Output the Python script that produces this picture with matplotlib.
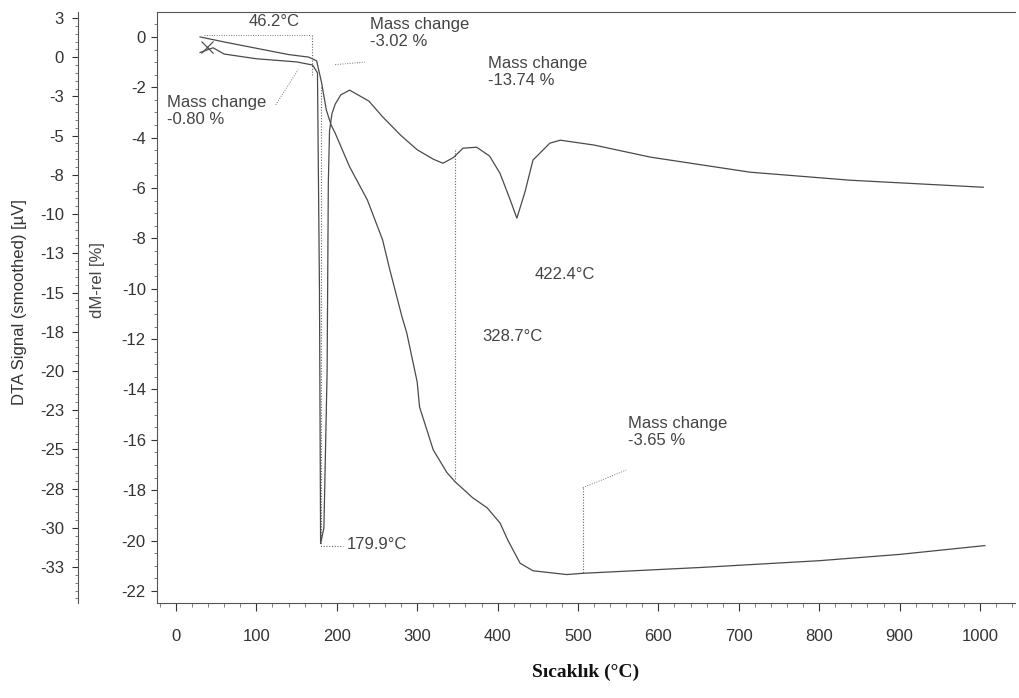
import numpy as np
import matplotlib
matplotlib.use("Agg")
import matplotlib.pyplot as plt
from matplotlib.ticker import MultipleLocator, FixedLocator, FixedFormatter

plt.rcParams["font.family"] = ["Liberation Sans", "DejaVu Sans"]
plt.rcParams["axes.unicode_minus"] = False

# TG curve, relative mass change (%)
tg_temp = [30, 60, 100, 140, 165, 175, 181, 187, 193, 198, 216, 238, 257, 266,
           281, 287, 300, 303, 320, 337, 347, 369, 387, 403, 413, 428, 444, 486,
           506, 652, 800, 900, 1006]
tg_mass = [0.0, -0.2, -0.45, -0.7, -0.8, -0.95, -1.8, -2.9, -3.5, -3.82, -5.16,
           -6.47, -8.06, -9.25, -11.1, -11.75, -13.7, -14.7, -16.4, -17.3, -17.66,
           -18.3, -18.7, -19.3, -20.0, -20.9, -21.2, -21.35, -21.3, -21.07, -20.8,
           -20.55, -20.2]

# DTA curve (uV)
dta_temp = [30, 46.2, 60, 100, 150, 170, 176, 178.5, 179.9, 184, 188, 189.5, 191,
            194, 198, 205, 216, 240, 257, 280, 300, 320, 332, 345, 357, 374, 390,
            403, 415, 424, 434, 444, 465, 478, 520, 590, 714, 838, 1004]
dta_sig = [0.3, 0.6, 0.2, -0.1, -0.3, -0.5, -1.0, -15.0, -31.0, -30.0, -20.0,
           -8.0, -4.7, -3.6, -3.0, -2.4, -2.1, -2.8, -3.8, -5.0, -5.9, -6.5, -6.76,
           -6.4, -5.8, -5.74, -6.3, -7.4, -9.0, -10.26, -8.6, -6.56, -5.48, -5.29,
           -5.6, -6.37, -7.33, -7.84, -8.29]

# annotations: (text, temperature, dM-rel position)
notes = [
    ("46.2°C", 90, 0.9),
    ("Mass change\n-3.02 %", 241, 0.8),
    ("Mass change\n-13.74 %", 388, -0.75),
    ("Mass change\n-0.80 %", -11, -2.3),
    ("422.4°C", 446, -9.15),
    ("328.7°C", 381, -11.6),
    ("179.9°C", 213, -19.85),
    ("Mass change\n-3.65 %", 562, -15.05),
]
# step marker lines: (temperature, dM-rel from, dM-rel to)
steps = [(169, 0.08, -1.5), (347, -4.5, -17.66), (506, -17.9, -21.3)]

dta_ticks = [2.5, 0, -2.5, -5, -7.5, -10, -12.5, -15, -17.5, -20, -22.5, -25,
             -27.5, -30, -32.5]
dta_labels = ["3", "0", "-3", "-5", "-8", "-10", "-13", "-15", "-18", "-20",
              "-23", "-25", "-28", "-30", "-33"]

line_col = "#4a4a4a"
text_col = "#333333"

fig = plt.figure(figsize=(10.2, 6.98), dpi=100)
ax = fig.add_axes([0.1539, 0.1361, 0.8412, 0.8467])
ax.set_xlim(-23.6, 1043.5)
ax.set_ylim(-22.48, 0.99)

ax2 = ax.twinx()
ax2.set_ylim(-34.79, 2.88)
ax2.yaxis.tick_left()
ax2.yaxis.set_label_position("left")
ax2.spines["left"].set_position(("outward", 57))
for s in ["right", "top", "bottom"]:
    ax2.spines[s].set_visible(False)
ax.spines["right"].set_visible(False)
for s in ["left", "top", "bottom"]:
    ax.spines[s].set_color("#555555")
    ax.spines[s].set_linewidth(0.8)
ax.spines["top"].set_linestyle((0, (2, 1)))
ax2.spines["left"].set_color("#555555")
ax2.spines["left"].set_linewidth(0.8)

# curves
ax.plot(tg_temp, tg_mass, color=line_col, lw=0.9)
ax2.plot(dta_temp, dta_sig, color=line_col, lw=0.9)
ax2.plot([38], [0.65], marker="x", ms=8, color="#555555", mew=0.9)

# step markers and pointers
for t, y0, y1 in steps:
    ax.plot([t, t], [y0, y1], color="#666666", lw=0.8, ls=(0, (1, 1.5)))
ax.plot([35, 168], [0.08, 0.08], color="#777777", lw=0.7, ls=(0, (1, 1.5)))
ax.plot([181, 181, 208], [-2, -20.2, -20.2], color="#666666", lw=0.8,
        ls=(0, (1, 1.5)))
ax.plot([124, 152], [-2.7, -1.3], color="#777777", lw=0.7, ls=(0, (1, 1.5)))
ax.plot([198, 235], [-1.1, -1.0], color="#777777", lw=0.7, ls=(0, (1, 1.5)))
ax.plot([506, 560], [-17.9, -17.2], color="#777777", lw=0.7, ls=(0, (1, 1.5)))

for txt, t, y in notes:
    ax.text(t, y, txt, fontsize=12, color="#444444", ha="left", va="top",
            linespacing=1.15)

# ticks
ax.set_xticks(range(0, 1001, 100))
ax.xaxis.set_minor_locator(MultipleLocator(20))
ax.yaxis.set_major_locator(MultipleLocator(2))
ax.yaxis.set_minor_locator(MultipleLocator(0.5))
ax.tick_params(axis="x", which="major", length=6, pad=13, labelsize=12,
               colors=text_col)
ax.tick_params(axis="x", which="minor", length=3, colors="#666666")
ax.tick_params(axis="y", which="major", length=4, pad=4, labelsize=12,
               colors=text_col)
ax.tick_params(axis="y", which="minor", length=2, colors="#666666")

ax2.yaxis.set_major_locator(FixedLocator(dta_ticks))
ax2.yaxis.set_major_formatter(FixedFormatter(dta_labels))
ax2.yaxis.set_minor_locator(MultipleLocator(0.5))
ax2.tick_params(axis="y", which="major", length=4, pad=6, labelsize=12,
                colors=text_col)
ax2.tick_params(axis="y", which="minor", length=2, colors="#666666")

ax.set_ylabel("dM-rel [%]", fontsize=12, color="#444444")
ax.yaxis.set_label_coords(-0.061, 0.547)
ax2.set_ylabel("DTA Signal (smoothed) [µV]", fontsize=12, color=text_col)
ax2.yaxis.set_label_coords(-0.152, 0.509)

ax.set_xlabel("Sıcaklık (°C)", fontsize=14, fontweight="bold",
              family="Liberation Serif", color="#111111", labelpad=14)

fig.savefig("out.png", dpi=100)
